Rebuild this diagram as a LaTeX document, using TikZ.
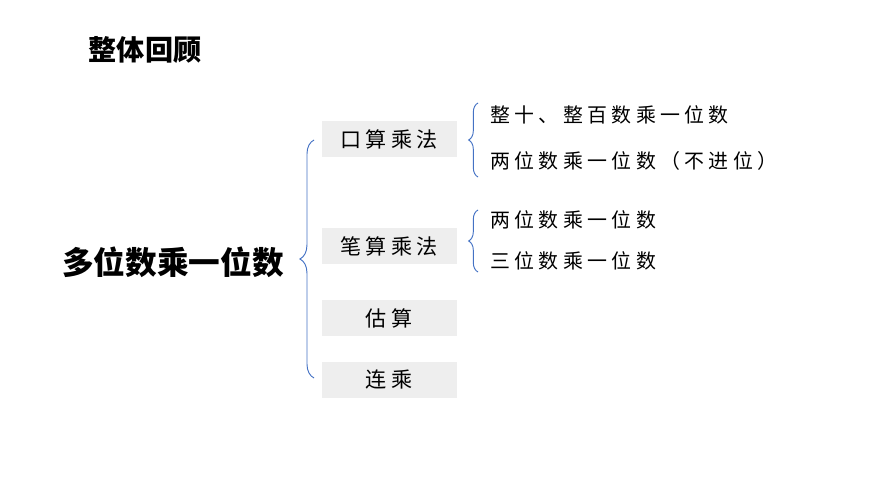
\documentclass[tikz,border=0pt]{standalone}
\usepackage{fontspec}
\setmainfont{Noto Sans CJK SC}
\newfontfamily\cjkbold[BoldFont={Noto Sans CJK SC Bold}]{Noto Sans CJK SC}
\usetikzlibrary{decorations.pathreplacing}
\definecolor{braceblue}{HTML}{4472C4}
\definecolor{boxgray}{HTML}{EEEEEE}
\tikzset{
  topic/.style={fill=boxgray, minimum width=4.05cm, minimum height=1.1cm, inner sep=0pt,
    font=\fontsize{18pt}{20pt}\selectfont\addfontfeature{LetterSpace=20}},
  leaf/.style={anchor=west, inner sep=0pt,
    font=\fontsize{17pt}{19pt}\selectfont\addfontfeature{LetterSpace=22}},
  bracket/.style={braceblue, thick, decorate, decoration={brace, amplitude=#1}},
}
\begin{document}
\begin{tikzpicture}[x=0.03cm, y=-0.03cm]
    \useasboundingbox (0,0) rectangle (870,489);

    % title
    \node (title) at (145,50) {\fontsize{24pt}{26pt}\selectfont\bfseries 整体回顾};
    \node (main) at (173,262) {\fontsize{27pt}{29pt}\selectfont\bfseries 多位数乘一位数};

    % topics
    \node[topic] (oral)  at (389,139) {口算乘法};
    \node[topic] (written) at (389,246) {笔算乘法};
    \node[topic] (est)   at (389,318) {估算};
    \node[topic] (chain) at (389,380) {连乘};

    % braces
    \coordinate (bigtop) at (314,140);
    \coordinate (bigbot) at (314,378);
    \draw[bracket=12pt] (bigbot) -- (bigtop);
    \coordinate (atop) at (478,103);
    \coordinate (abot) at (478,177);
    \draw[bracket=8pt] (abot) -- (atop);
    \coordinate (btop) at (478,210);
    \coordinate (bbot) at (478,272);
    \draw[bracket=8pt] (bbot) -- (btop);

    % leaves
    \node[leaf] (a1) at (490,115) {整十、整百数乘一位数};
    \node[leaf] (a2) at (490,161) {两位数乘一位数（不进位）};
    \node[leaf] (b1) at (490,220) {两位数乘一位数};
    \node[leaf] (b2) at (490,261) {三位数乘一位数};
\end{tikzpicture}
\end{document}
